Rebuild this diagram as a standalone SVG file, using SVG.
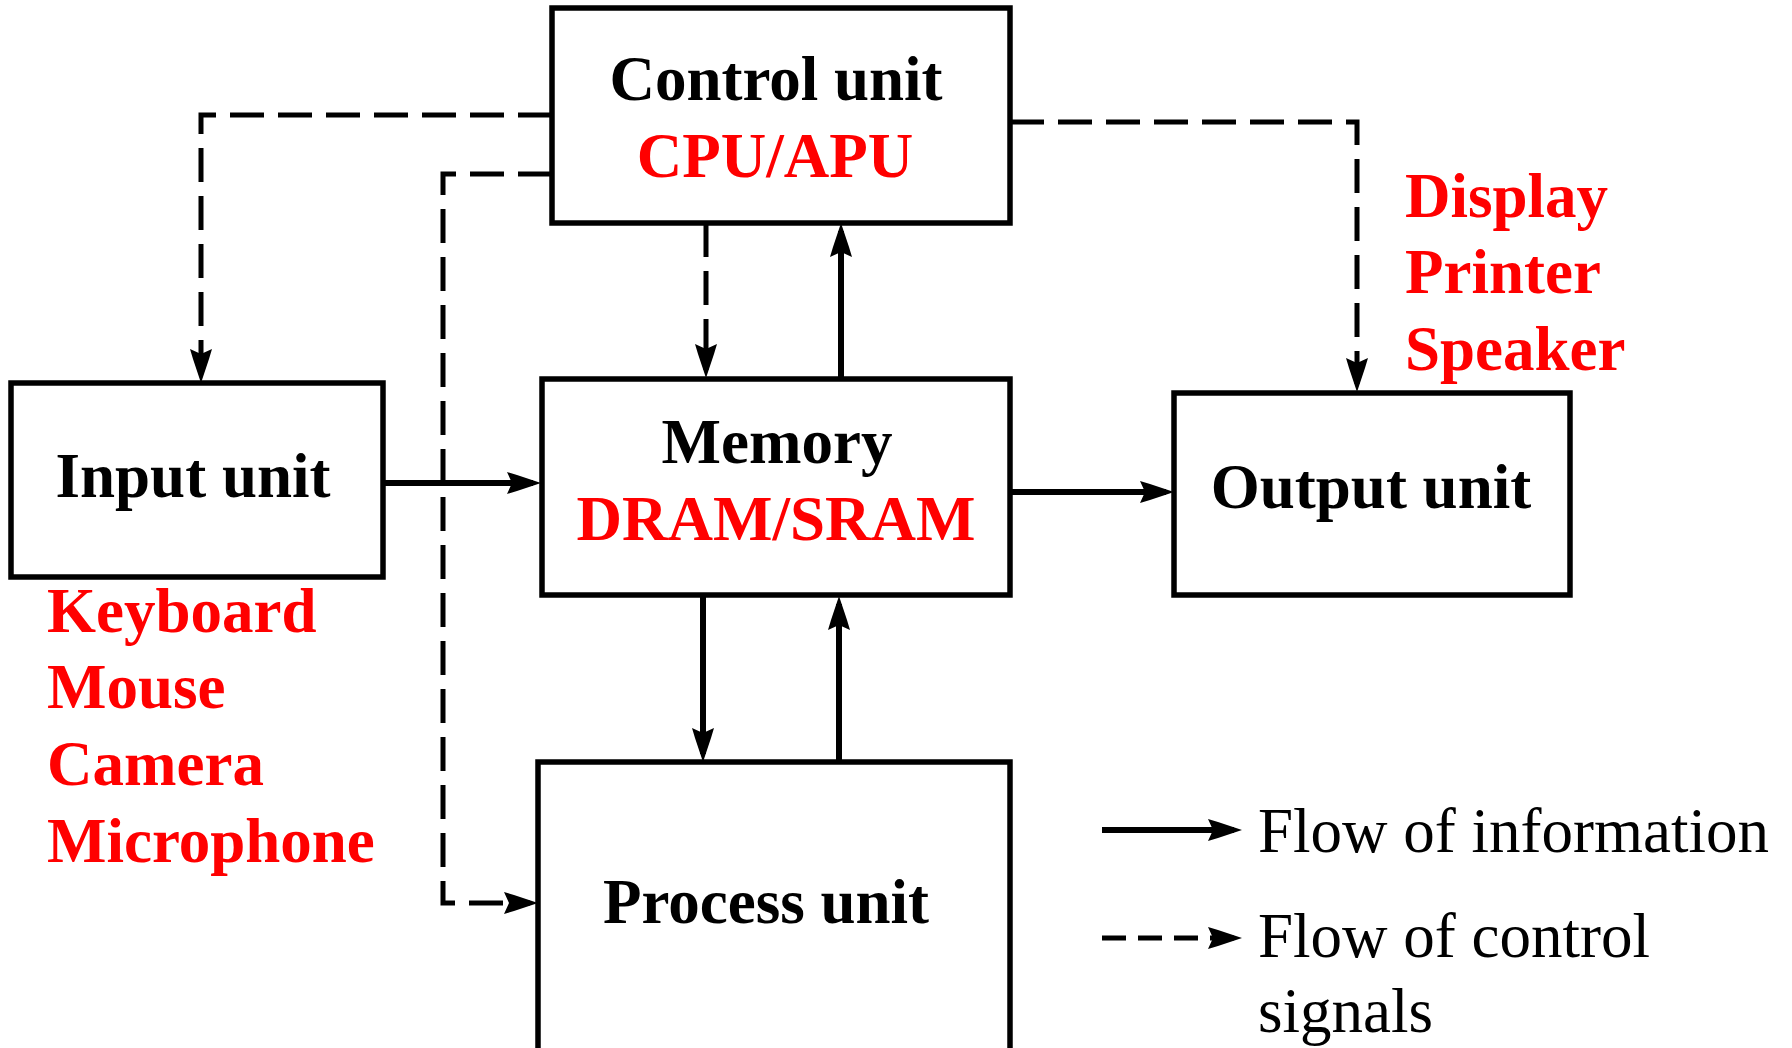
<svg xmlns="http://www.w3.org/2000/svg" width="1792" height="1048" viewBox="0 0 1792 1048">
<style>
.box{fill:#fff;stroke:#000;stroke-width:5.5}
.lbl{font-family:"Liberation Serif","Times New Roman",serif;font-weight:bold;font-size:63px;fill:#000}
.red{font-family:"Liberation Serif","Times New Roman",serif;font-weight:bold;font-size:63px;fill:#ff0000}
.leg{font-family:"Liberation Serif","Times New Roman",serif;font-size:63px;fill:#000}
.solid{fill:none;stroke:#000;stroke-width:6;marker-end:url(#ah)}
.dash{fill:none;stroke:#000;stroke-width:5;stroke-dasharray:34 14;marker-end:url(#ah)}
.mid{text-anchor:middle}
</style>
<defs>
<marker id="ah" markerUnits="userSpaceOnUse" markerWidth="38" markerHeight="26" refX="26" refY="12" orient="auto" overflow="visible">
<path d="M0,1 L10,4 L34,12 L10,20 L0,23 L5,12 Z" fill="#000"/>
</marker>
</defs>
<rect width="1792" height="1048" fill="#fff"/>

<g id="connectors">
<path class="dash" d="M552,115 H201 V375"/>
<path class="dash" d="M552,174 H443 V903 H530"/>
<path class="dash" d="M706,223 V370"/>
<path class="solid" d="M841,378 V231"/>
<path class="dash" d="M1010,122 H1357 V384"/>
<path class="solid" d="M383,483 H533"/>
<path class="solid" d="M1010,492 H1166"/>
<path class="solid" d="M703,596 V754"/>
<path class="solid" d="M839,762 V604"/>
</g>

<g id="control">
<rect class="box" x="552" y="8" width="458" height="215"/>
<text class="lbl mid" x="776" y="100">Control unit</text>
<text class="red mid" x="775" y="177">CPU/APU</text>
</g>

<g id="input">
<rect class="box" x="11" y="383" width="372" height="194"/>
<text class="lbl mid" x="193" y="497">Input unit</text>
</g>

<g id="input-devices">
<text class="red" x="47" y="632">Keyboard</text>
<text class="red" x="47" y="708">Mouse</text>
<text class="red" x="47" y="785">Camera</text>
<text class="red" x="47" y="862">Microphone</text>
</g>

<g id="memory">
<rect class="box" x="542" y="379" width="468" height="216"/>
<text class="lbl mid" x="777" y="463">Memory</text>
<text class="red mid" x="776" y="540">DRAM/SRAM</text>
</g>

<g id="output">
<rect class="box" x="1174" y="393" width="396" height="202"/>
<text class="lbl mid" x="1371" y="508">Output unit</text>
</g>

<g id="output-devices">
<text class="red" x="1405" y="217">Display</text>
<text class="red" x="1405" y="293">Printer</text>
<text class="red" x="1405" y="370">Speaker</text>
</g>

<g id="process">
<rect class="box" x="538" y="762" width="472" height="320"/>
<text class="lbl mid" x="766" y="923">Process unit</text>
</g>

<g id="legend">
<path class="solid" d="M1102,830 H1234"/>
<path class="dash" d="M1102,938 H1234" style="stroke-dasharray:24 12"/>
<text class="leg" x="1258" y="852">Flow of information</text>
<text class="leg" x="1258" y="957">Flow of control</text>
<text class="leg" x="1258" y="1032">signals</text>
</g>
</svg>
